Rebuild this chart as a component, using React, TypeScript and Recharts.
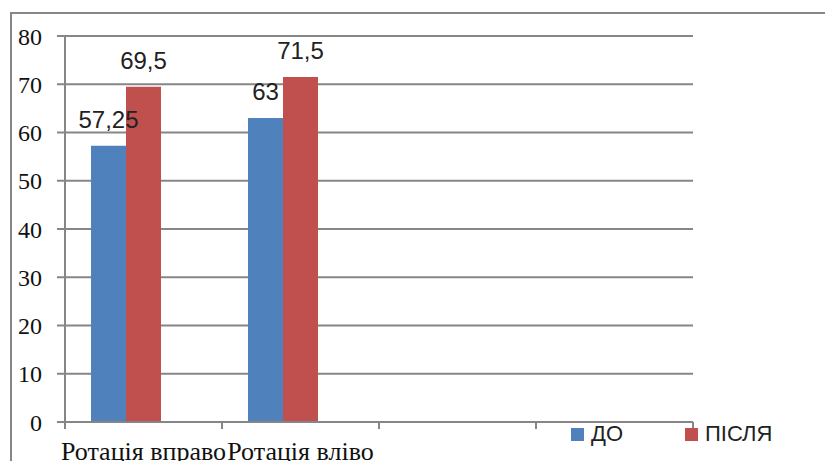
import { BarChart, Bar, XAxis, YAxis, CartesianGrid, Legend, LabelList } from "recharts"

const categories = ["Ротація вправо", "Ротація вліво", "", ""]
const before = [57.25, 63, null, null]
const after = [69.5, 71.5, null, null]
// third (empty) series keeps the bar group offset to the left of the band centre
const spare = [null, null, null, null]
const yTicks = [0, 10, 20, 30, 40, 50, 60, 70, 80]

const seriesNames = { before: "ДО", after: "ПІСЛЯ" }
const BLUE = "#4F81BD"
const RED = "#C0504D"
const GRID = "#868686"

const data = categories.map((name, i) => ({
    name,
    before: before[i],
    after: after[i],
    spare: spare[i],
}))

const W = 825
const H = 461
const M = { top: 36, right: 132, bottom: 0, left: 0 }
const Y_W = 65
const X_H = 39
const HALF_BAND = (W - M.right - Y_W) / categories.length / 2

const fmt = (v: any) => (v == null ? "" : String(v).replace(".", ","))

const CategoryTick = (props: any) => {
    const { x, y, payload, index } = props
    const off = payload?.offset || HALF_BAND
    return (
        <g>
            <line x1={x - off} x2={x - off} y1={y} y2={y + 7} stroke={GRID} strokeWidth={2} />
            {index === categories.length - 1 && (
                <line x1={x + off} x2={x + off} y1={y} y2={y + 7} stroke={GRID} strokeWidth={2} />
            )}
            <text x={x} y={y + 38} textAnchor="middle" fontFamily="'Liberation Serif', serif"
                fontSize={26} fill="#111">
                {payload.value}
            </text>
        </g>
    )
}

const ValueLabel = (props: any) => {
    const { x, y, width, value } = props
    if (value == null) return null
    return (
        <text x={x + width / 2} y={y - 18} textAnchor="middle"
            fontFamily="'Liberation Sans', Arial, sans-serif" fontSize={24} fill="#222">
            {fmt(value)}
        </text>
    )
}

const LegendBox = () => (
    <div style={{ display: "flex", alignItems: "center", fontFamily: "'Liberation Sans', Arial, sans-serif", fontSize: 22, color: "#222" }}>
        {[{ n: seriesNames.before, c: BLUE }, { n: seriesNames.after, c: RED }].map((it, i) => (
            <div key={i} style={{ display: "flex", alignItems: "center", marginRight: i === 0 ? 62 : 0 }}>
                <span style={{ width: 13, height: 13, background: it.c, display: "inline-block", marginRight: 7 }} />
                <span>{it.n}</span>
            </div>
        ))}
    </div>
)

export default function App() {
    return (
        <div style={{ position: "absolute", left: 0, top: 0, width: W, height: H, overflow: "hidden", background: "#fff" }}>
            {/* chart frame, runs off the right and bottom edges */}
            <div style={{ position: "absolute", left: 10, top: 12, width: 900, height: 600, border: `2px solid ${GRID}` }} />
            <div style={{ position: "absolute", left: 0, top: 0 }}>
                <BarChart width={W} height={H} data={data} margin={M} barGap={0} barSize={35}>
                    <CartesianGrid vertical={false} stroke={GRID} strokeWidth={2} />
                    <XAxis dataKey="name" height={X_H} interval={0} tickSize={0} tickMargin={0}
                        axisLine={{ stroke: GRID, strokeWidth: 2 }} tick={<CategoryTick />} />
                    <YAxis width={Y_W} domain={[0, 80]} ticks={yTicks} interval={0}
                        tickSize={8} tickMargin={15}
                        axisLine={{ stroke: GRID, strokeWidth: 2 }}
                        tickLine={{ stroke: GRID, strokeWidth: 2 }}
                        tick={{ fontFamily: "'Liberation Serif', serif", fontSize: 24, fill: "#111" }} />
                    <Legend layout="horizontal" verticalAlign="middle" align="center"
                        wrapperStyle={{ left: 571, top: 421, width: 240 }} content={<LegendBox />} />
                    <Bar dataKey="before" name={seriesNames.before} fill={BLUE} isAnimationActive={false}>
                        <LabelList dataKey="before" content={<ValueLabel />} />
                    </Bar>
                    <Bar dataKey="after" name={seriesNames.after} fill={RED} isAnimationActive={false}>
                        <LabelList dataKey="after" content={<ValueLabel />} />
                    </Bar>
                    <Bar dataKey="spare" fill="#9BBB59" legendType="none" isAnimationActive={false} />
                </BarChart>
            </div>
        </div>
    )
}
